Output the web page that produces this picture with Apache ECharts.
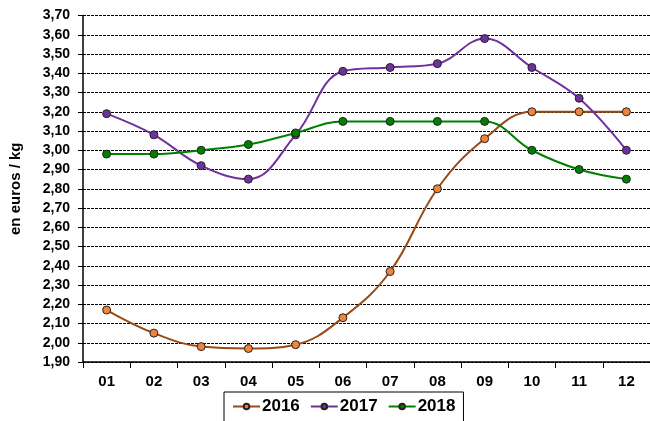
<!DOCTYPE html>
<html>
<head>
<meta charset="utf-8">
<script src="https://cdn.jsdelivr.net/npm/echarts@6/dist/echarts.min.js"></script>
<style>
  html, body { margin: 0; padding: 0; background: #fff; }
  #main { width: 650px; height: 421px; }
</style>
</head>
<body>
<div id="main"></div>
<script type="text/javascript">
// months
var months = ['01', '02', '03', '04', '05', '06', '07', '08', '09', '10', '11', '12'];
// prix en euros / kg
var prix2016 = [2.17, 2.05, 1.98, 1.97, 1.99, 2.13, 2.37, 2.80, 3.06, 3.20, 3.20, 3.20];
var prix2017 = [3.19, 3.08, 2.92, 2.85, 3.08, 3.41, 3.43, 3.45, 3.58, 3.43, 3.27, 3.00];
var prix2018 = [2.98, 2.98, 3.00, 3.03, 3.09, 3.15, 3.15, 3.15, 3.15, 3.00, 2.90, 2.85];

var font = 'Liberation Sans, Arial, sans-serif';

var myChart = echarts.init(document.getElementById('main'));

function serie(name, data, lineColor, dotColor) {
	return {
		name: name,
		type: 'line',
		data: data,
		smooth: 0.4,
		symbol: 'circle',
		symbolSize: 8,
		itemStyle: { color: dotColor, borderColor: '#222', borderWidth: 1 },
		lineStyle: { color: lineColor, width: 2 },
		emphasis: { disabled: true }
	};
}

var option = {
	animation: false,
	grid: { left: 81, top: 15.5, bottom: 59, right: -9, containLabel: false },
	legend: {
		left: 224,
		top: 392,
		padding: [6, 8, 10, 8],
		itemGap: 10,
		itemWidth: 27,
		itemHeight: 7,
		borderColor: '#000',
		borderWidth: 1,
		textStyle: { fontFamily: font, fontWeight: 'bold', fontSize: 17, color: '#000', padding: [0, 0, 0, -3] },
		data: ['2016', '2017', '2018']
	},
	xAxis: {
		type: 'category',
		data: months,
		boundaryGap: true,
		axisLine: { lineStyle: { color: '#000', width: 1.5 } },
		axisTick: { show: true, length: 6, lineStyle: { color: '#000' } },
		axisLabel: { fontFamily: font, fontWeight: 'bold', fontSize: 15, color: '#000', margin: 12 },
		splitLine: { show: false }
	},
	yAxis: {
		type: 'value',
		min: 1.9,
		max: 3.7,
		interval: 0.1,
		name: 'en euros / kg',
		nameLocation: 'middle',
		nameRotate: 90,
		nameGap: 60,
		nameTextStyle: { fontFamily: font, fontWeight: 'bold', fontSize: 15, color: '#000' },
		axisLine: { show: true, lineStyle: { color: '#000', width: 1.5 } },
		axisTick: { show: true, length: 5, lineStyle: { color: '#000' } },
		axisLabel: {
			fontFamily: font, fontWeight: 'bold', fontSize: 14, color: '#000', margin: 13,
			formatter: function (v) { return v.toFixed(2).replace('.', ','); }
		},
		splitLine: { show: true, lineStyle: { color: '#000', type: [3, 1], width: 1 } }
	},
	series: [
		serie('2016', prix2016, '#974A16', '#F0843A'),
		serie('2017', prix2017, '#7030A0', '#7030A0'),
		serie('2018', prix2018, '#008000', '#008000')
	]
};

myChart.setOption(option);
</script>
</body>
</html>
